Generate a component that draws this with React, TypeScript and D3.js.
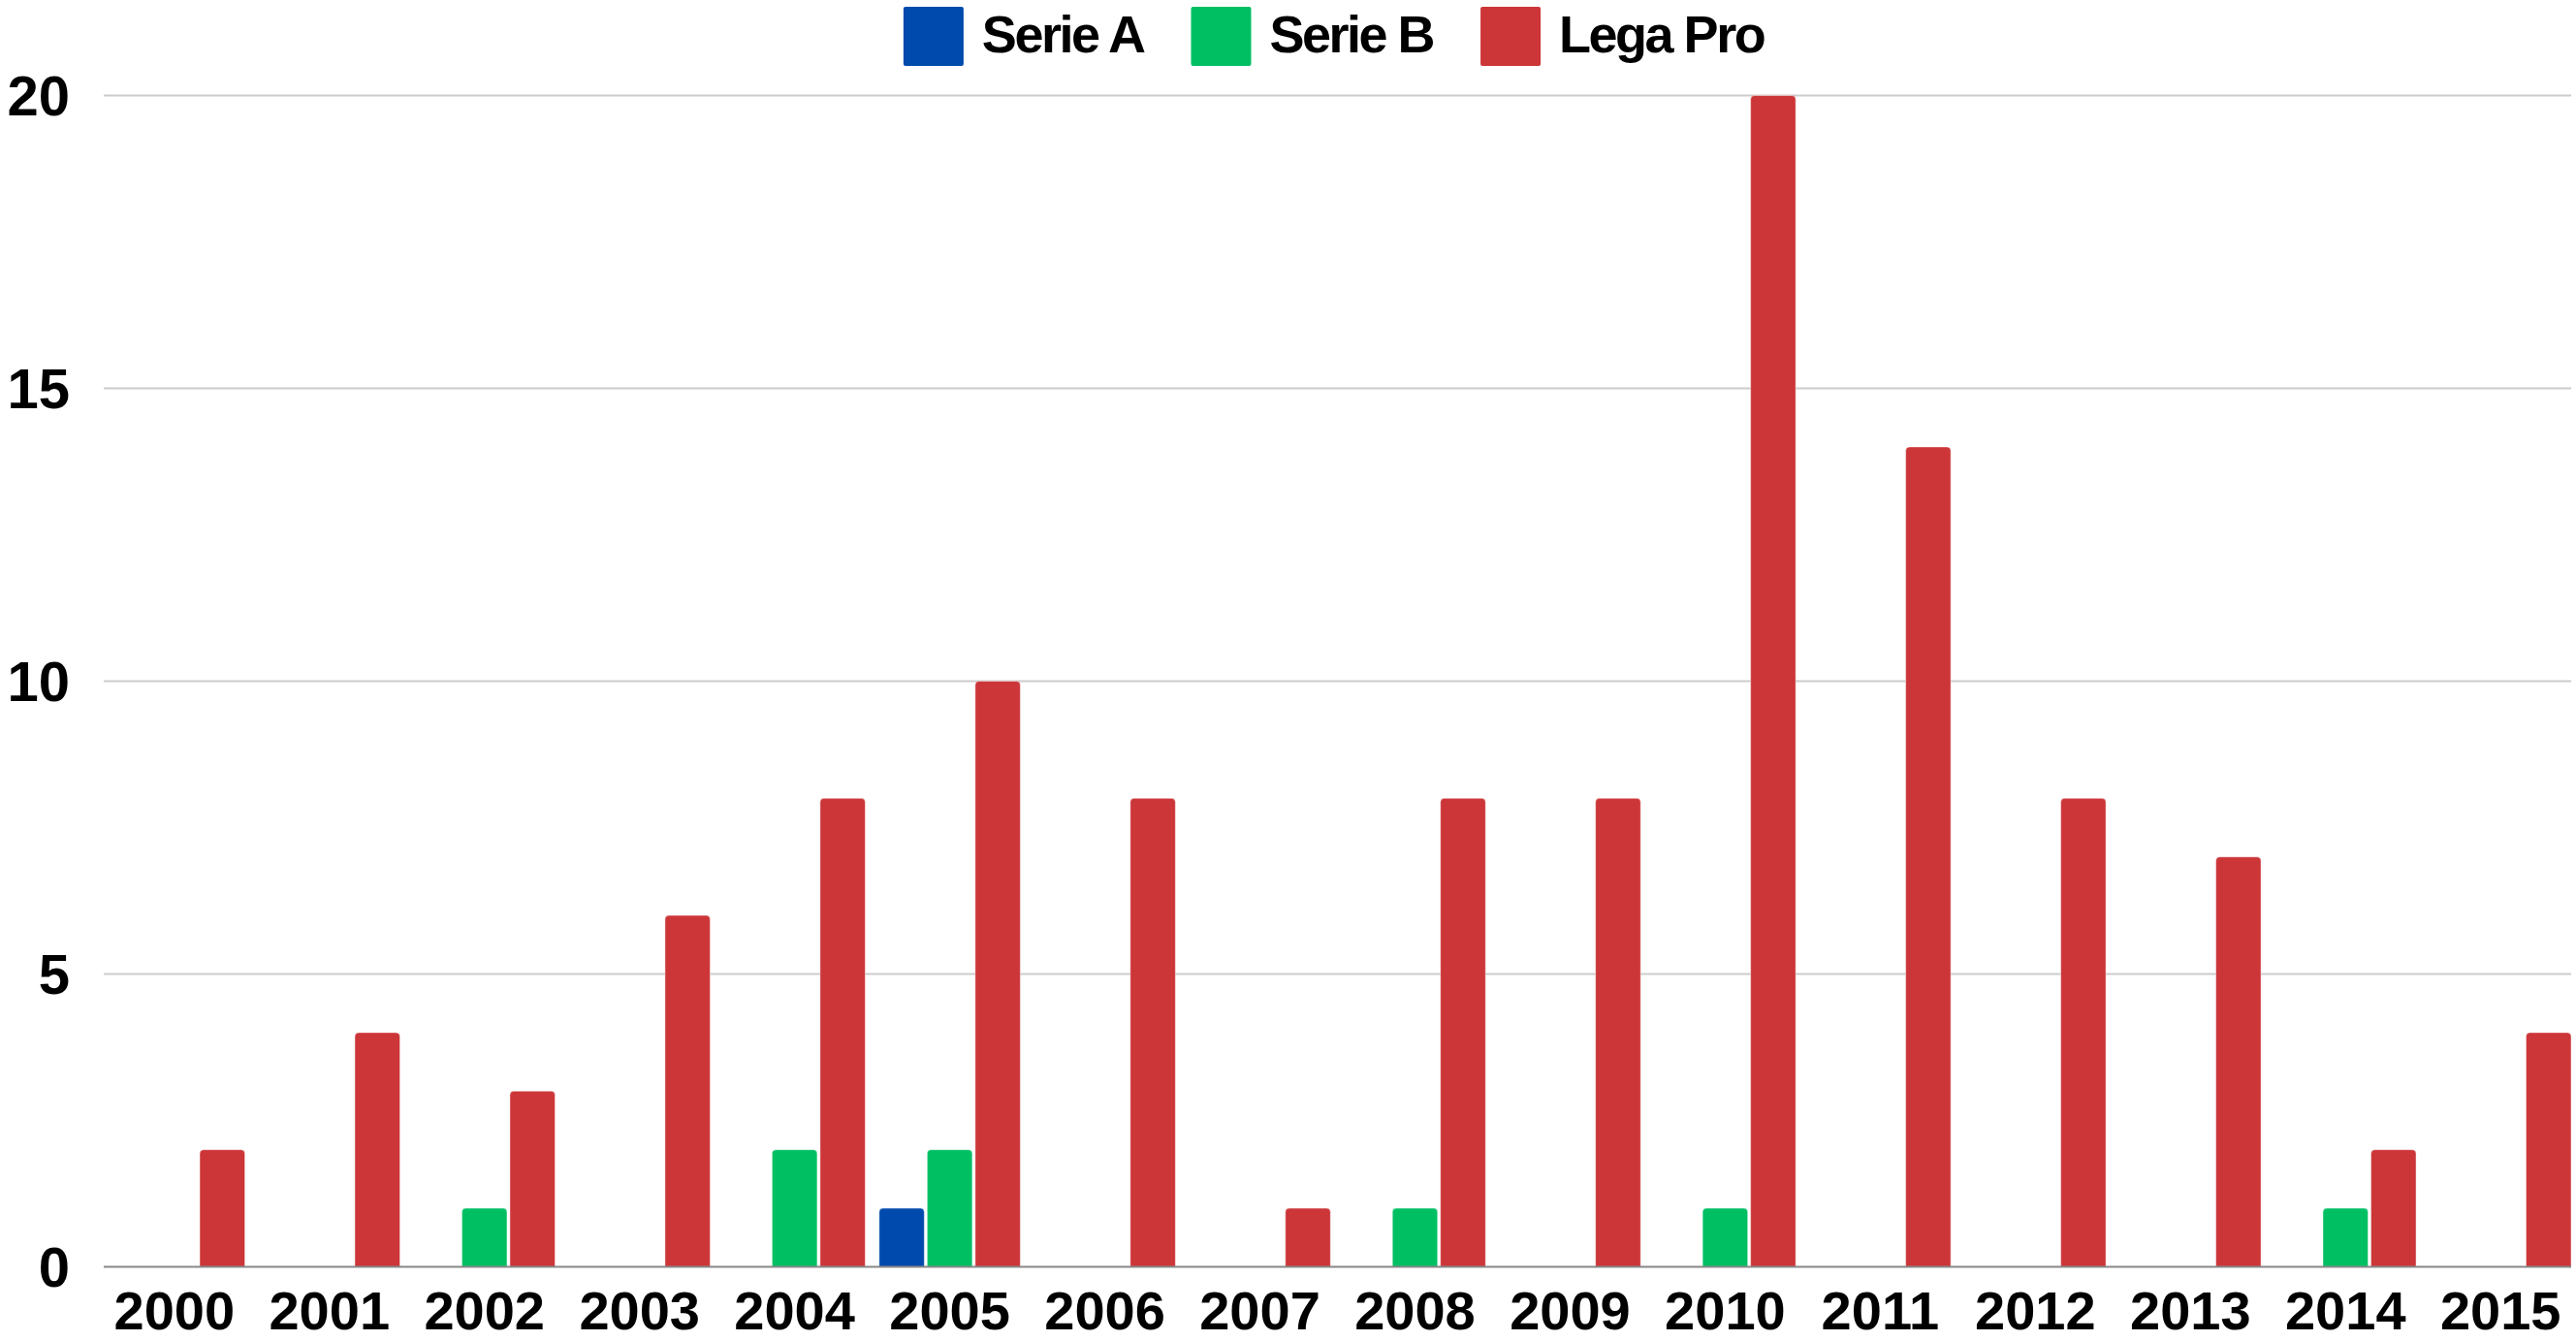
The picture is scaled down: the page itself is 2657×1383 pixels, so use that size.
import React, { useEffect, useRef } from "react";
import * as d3 from "d3";

const years = ["2000","2001","2002","2003","2004","2005","2006","2007","2008","2009","2010","2011","2012","2013","2014","2015"];
const serieA = [0,0,0,0,0,1,0,0,0,0,0,0,0,0,0,0];
const serieB = [0,0,1,0,2,2,0,0,1,0,1,0,0,0,1,0];
const legaPro = [2,4,3,6,8,10,8,1,8,8,20,14,8,7,2,4];
const seriesNames = ["Serie A","Serie B","Lega Pro"];
const seriesColors = ["#004AAD","#00BF63","#CC3639"];
const yTicks = [0,5,10,15,20];

const W = 2657, H = 1383;
const FONT = "'Liberation Sans', Arial, Helvetica, sans-serif";

export default function App() {
  const ref = useRef<SVGSVGElement>(null);
  useEffect(() => {
    const svg = d3.select(ref.current);
    svg.selectAll("*").remove();
    const left = 107, right = 2652, top = 98.5, bottom = 1306.5;
    const x0 = d3.scaleBand<string>().domain(years).range([left, right]).paddingInner(0.09).paddingOuter(0);
    const x1 = d3.scaleBand<string>().domain(seriesNames).range([0, x0.bandwidth()]).paddingInner(0.06);
    const y = d3.scaleLinear().domain([0, 20]).range([bottom, top]);
    const data = [serieA, serieB, legaPro];

    svg.append("g").selectAll("line").data(yTicks.filter(t => t !== 0)).join("line")
      .attr("x1", left).attr("x2", right)
      .attr("y1", d => y(d)).attr("y2", d => y(d))
      .attr("stroke", "#cccccc").attr("stroke-width", 2);

    svg.append("g").selectAll("text").data(yTicks).join("text")
      .attr("x", 72).attr("y", d => y(d))
      .attr("text-anchor", "end").attr("dominant-baseline", "central")
      .attr("font-family", FONT).attr("font-weight", "bold").attr("font-size", 58)
      .attr("fill", "#000").text(d => String(d));

    const r = 4;
    const barPath = (x: number, yTop: number, w: number, h: number) => {
      const rr = Math.min(r, h / 2, w / 2);
      return `M${x},${yTop + h}V${yTop + rr}Q${x},${yTop} ${x + rr},${yTop}H${x + w - rr}Q${x + w},${yTop} ${x + w},${yTop + rr}V${yTop + h}Z`;
    };
    const g = svg.append("g");
    years.forEach((yr, i) => {
      seriesNames.forEach((s, j) => {
        const v = data[j][i];
        if (!v) return;
        const bx = (x0(yr) as number) + (x1(s) as number);
        const bw = x1.bandwidth();
        const yt = y(v);
        g.append("path").attr("d", barPath(bx, yt, bw, bottom - yt))
          .attr("fill", seriesColors[j])
          .attr("stroke", "rgba(255,255,255,0.45)").attr("stroke-width", 1);
      });
    });

    svg.append("line").attr("x1", left).attr("x2", right).attr("y1", bottom).attr("y2", bottom)
      .attr("stroke", "#888888").attr("stroke-width", 2);

    svg.append("g").selectAll("text").data(years).join("text")
      .attr("x", d => (x0(d) as number) + x0.bandwidth() / 2)
      .attr("y", 1371)
      .attr("text-anchor", "middle")
      .attr("font-family", FONT).attr("font-weight", "bold").attr("font-size", 56)
      .attr("fill", "#000").text(d => d);

    const lg = svg.append("g");
    const sq = 62, gapSqText = 19, gapItems = 49;
    const items: { w: number }[] = [];
    const tmp = lg.append("g");
    seriesNames.forEach((s) => {
      const t = tmp.append("text").attr("font-family", FONT).attr("font-weight", "bold")
        .attr("font-size", 54).attr("letter-spacing", -2.5).text(s);
      const w = (t.node() as SVGTextElement).getComputedTextLength();
      items.push({ w });
    });
    tmp.remove();
    const total = items.reduce((a, it) => a + sq + gapSqText + it.w, 0) + gapItems * (items.length - 1);
    let cx = (left + right) / 2 - total / 2 - 4;
    seriesNames.forEach((s, j) => {
      lg.append("rect").attr("x", cx).attr("y", 7).attr("width", sq).attr("height", 61)
        .attr("rx", 2).attr("fill", seriesColors[j]);
      lg.append("text").attr("x", cx + sq + gapSqText).attr("y", 54)
        .attr("font-family", FONT).attr("font-weight", "bold")
        .attr("font-size", 54).attr("letter-spacing", -2.5)
        .attr("fill", "#000").text(s);
      cx += sq + gapSqText + items[j].w + gapItems;
    });
  }, []);
  return (
    <svg ref={ref} width={W} height={H}
      style={{ position: "absolute", left: 0, top: 0, display: "block", background: "#fff" }} />
  );
}
